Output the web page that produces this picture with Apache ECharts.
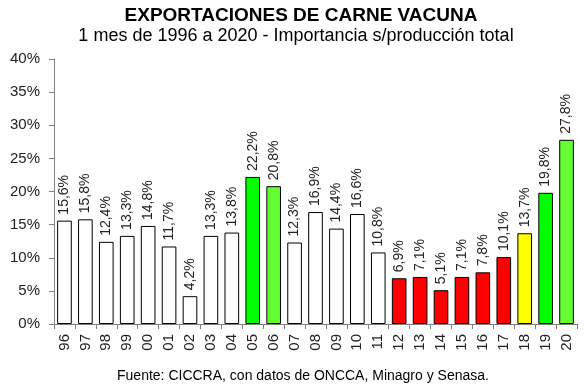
<!DOCTYPE html>
<html><head><meta charset="utf-8">
<script src="https://cdn.jsdelivr.net/npm/echarts@6/dist/echarts.min.js"></script>
<style>html,body{margin:0;padding:0;background:#fff}#c{width:587px;height:384px}</style>
</head><body><div id="c"></div>
<script>
const categories = ["96","97","98","99","00","01","02","03","04","05","06","07","08","09","10","11","12","13","14","15","16","17","18","19","20"];
const values = [15.6,15.8,12.4,13.3,14.8,11.7,4.2,13.3,13.8,22.2,20.8,12.3,16.9,14.4,16.6,10.8,6.9,7.1,5.1,7.1,7.8,10.1,13.7,19.8,27.8];
const barColors = ["#ffffff","#ffffff","#ffffff","#ffffff","#ffffff","#ffffff","#ffffff","#ffffff","#ffffff","#00ff00","#66ff33","#ffffff","#ffffff","#ffffff","#ffffff","#ffffff","#ff0000","#ff0000","#ff0000","#ff0000","#ff0000","#ff0000","#ffff00","#00ff00","#66ff33"];
const yTicks = [0,5,10,15,20,25,30,35,40];
const titleText = "EXPORTACIONES DE CARNE VACUNA";
const subtitleText = "1 mes de 1996 a 2020 - Importancia s/producción total";
const sourceText = "Fuente: CICCRA, con datos de ONCCA, Minagro y Senasa.";

const chart = echarts.init(document.getElementById('c'));
chart.setOption({
  animation:false,
  backgroundColor:'#fff',
  title:[
    {text:titleText,left:296,textAlign:'center',top:1,textStyle:{fontFamily:'Liberation Sans, Arial',fontWeight:'bold',fontSize:19,color:'#000'}},
    {text:subtitleText,left:291,textAlign:'center',top:22,textStyle:{fontFamily:'Liberation Sans, Arial',fontWeight:'normal',fontSize:18,color:'#000'}},
    {text:sourceText,left:298,textAlign:'center',top:364,textStyle:{fontFamily:'Liberation Sans, Arial',fontWeight:'normal',fontSize:14,color:'#000'}}
  ],
  grid:{left:54,right:10,top:59,bottom:60,containLabel:false},
  xAxis:{type:'category',data:categories,
    axisLine:{lineStyle:{color:'#808080'}},
    axisTick:{show:true,alignWithLabel:false,length:5,lineStyle:{color:'#808080'}},
    axisLabel:{rotate:90,fontFamily:'Liberation Sans, Arial',fontSize:15,color:'#222',margin:10,interval:0}},
  yAxis:{type:'value',min:yTicks[0],max:yTicks[yTicks.length-1],interval:5,
    axisLine:{show:true,lineStyle:{color:'#808080'}},
    axisTick:{show:true,length:5,lineStyle:{color:'#808080'}},
    splitLine:{show:false},
    axisLabel:{formatter:v=>v+'%',fontFamily:'Liberation Sans, Arial',fontSize:15,color:'#222',margin:14}},
  series:[{type:'bar',barCategoryGap:'30%',
    data:values.map((v,i)=>({value:v,itemStyle:{color:barColors[i]}})),
    itemStyle:{borderColor:'#000',borderWidth:1},
    label:{show:true,position:'top',rotate:90,align:'left',verticalAlign:'middle',distance:6,
      formatter:p=>p.value.toFixed(1).replace('.',',')+'%',
      fontFamily:'Liberation Sans, Arial',fontSize:14,color:'#222'}
  }]
});
</script></body></html>
